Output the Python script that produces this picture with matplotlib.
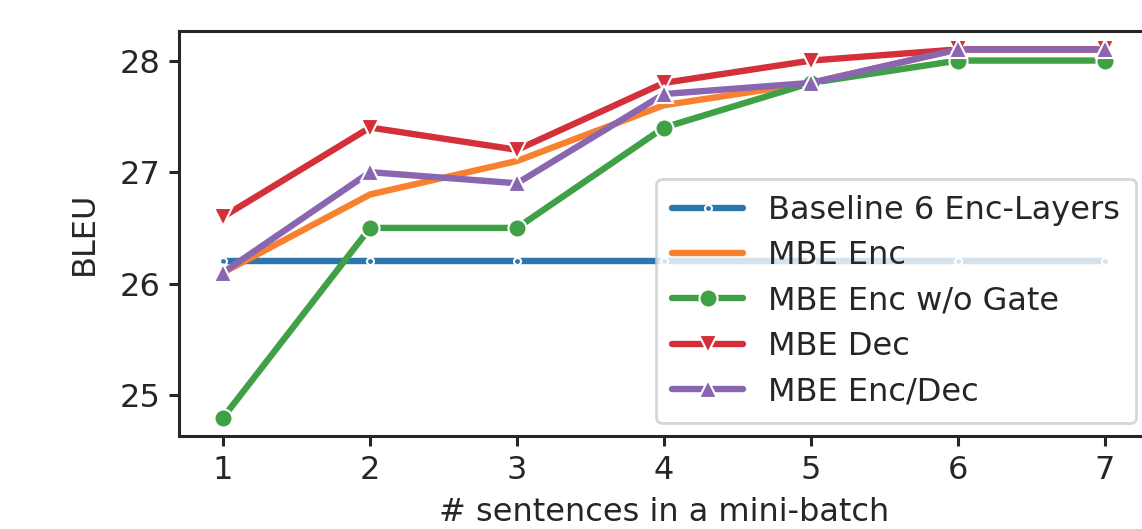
import matplotlib
matplotlib.use("Agg")
import matplotlib.pyplot as plt
import seaborn as sns

sns.set_style("ticks")
plt.rcParams['font.family'] = ['DejaVu Sans']

x = [1, 2, 3, 4, 5, 6, 7]
baseline = [26.2, 26.2, 26.2, 26.2, 26.2, 26.2, 26.2]
mbe_enc = [26.1, 26.8, 27.1, 27.6, 27.8, 28.1, 28.1]
mbe_enc_nogate = [24.8, 26.5, 26.5, 27.4, 27.8, 28.0, 28.0]
mbe_dec = [26.6, 27.4, 27.2, 27.8, 28.0, 28.1, 28.1]
mbe_encdec = [26.1, 27.0, 26.9, 27.7, 27.8, 28.1, 28.1]

series = [
    ("Baseline 6 Enc-Layers", baseline, ".", 10),
    ("MBE Enc", mbe_enc, None, 0),
    ("MBE Enc w/o Gate", mbe_enc_nogate, "o", 13),
    ("MBE Dec", mbe_dec, "v", 13),
    ("MBE Enc/Dec", mbe_encdec, "^", 13),
]
colors = ["#2c77ae", "#f7812f", "#3fa046", "#d3303a", "#8a66b0"]

fig = plt.figure(figsize=(11.42, 5.29), dpi=100)
ax = fig.add_axes([179 / 1142, 93 / 529, 970 / 1142, 405 / 529])

for i, (label, ys, marker, ms) in enumerate(series):
    ax.plot(x, ys, color=colors[i], lw=4.6, marker=marker, markersize=ms,
            markeredgecolor="white", markeredgewidth=1.5, label=label)

ax.set_xlim(0.7, 7.3)
ax.set_ylim(24.635, 28.265)
ax.set_xticks(x)
ax.set_yticks([25, 26, 27, 28])
ax.tick_params(labelsize=23, width=2.2, length=7.5, pad=6, colors="#262626")
for s in ax.spines.values():
    s.set_linewidth(2.2)
    s.set_color("#262626")
ax.set_xlabel("# sentences in a mini-batch", fontsize=23, color="#262626",
              labelpad=8)
ax.set_ylabel("BLEU", fontsize=23, color="#262626", labelpad=14)
leg = ax.legend(loc="lower right", fontsize=23, framealpha=0.8, handlelength=2.2,
                borderaxespad=0.4, labelspacing=0.45, borderpad=0.5)
leg.get_frame().set_linewidth(2)

fig.savefig("out.png", dpi=100)
